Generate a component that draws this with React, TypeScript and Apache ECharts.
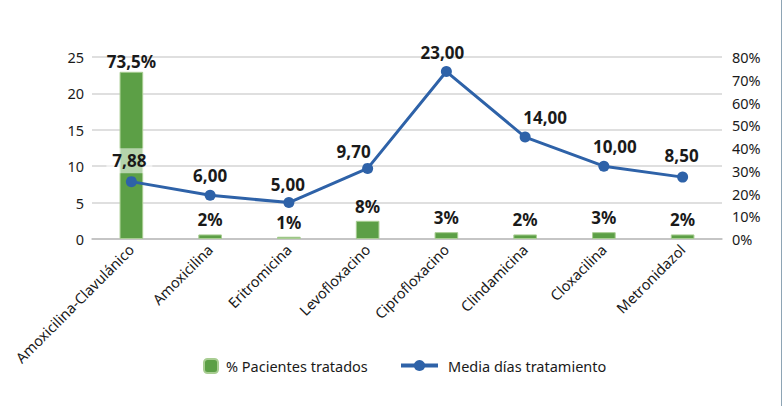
import React, { useEffect, useRef } from "react";
import * as echarts from "echarts";

const categories = [
  "Amoxicilina-Clavulánico",
  "Amoxicilina",
  "Eritromicina",
  "Levofloxacino",
  "Ciprofloxacino",
  "Clindamicina",
  "Cloxacilina",
  "Metronidazol",
];
const pacientesPct = [73.5, 2, 1, 8, 3, 2, 3, 2];
const mediaDias = [7.88, 6, 5, 9.7, 23, 14, 10, 8.5];
const leftTicks = { min: 0, max: 25, interval: 5 };
const rightTicks = { min: 0, max: 80, interval: 10 };

// label offsets (style only)
const lineLabelOffsets: [number, number][] = [
  [-2, 3],
  [0, 0],
  [-1, 2],
  [-14, 3],
  [-4, 1],
  [20, 0],
  [11, 0],
  [-1, -2],
];

const FONT = "'Noto Sans', 'Open Sans', sans-serif";
const TXT = "#1a1a1a";
const GREEN = "#5c9f46";
const BLUE = "#2e62a8";

export default function App() {
  const ref = useRef<HTMLDivElement>(null);
  useEffect(() => {
    if (!ref.current) return;
    const chart = echarts.init(ref.current, null, { renderer: "svg" });
    const fmtComma = (v: number, d?: number) =>
      (d !== undefined ? v.toFixed(d) : String(v)).replace(".", ",");
    chart.setOption({
      animation: false,
      textStyle: { fontFamily: FONT },
      grid: { left: 92, right: 60, top: 57, bottom: 167 },
      legend: [
        {
          data: ["% Pacientes tratados"],
          left: 203,
          top: 358,
          padding: 0,
          itemWidth: 14,
          itemHeight: 14,
          textStyle: { fontSize: 14.5, color: TXT, fontFamily: FONT, padding: [0, 0, 0, 3] },
        },
        {
          data: ["Media días tratamiento"],
          left: 399,
          top: 358,
          padding: 0,
          itemWidth: 37,
          itemHeight: 14,
          lineStyle: { width: 4 },
          textStyle: { fontSize: 14.5, color: TXT, fontFamily: FONT, padding: [0, 0, 0, 5] },
        },
      ],
      xAxis: {
        type: "category",
        data: categories,
        boundaryGap: true,
        axisTick: { show: false },
        axisLine: { lineStyle: { color: "#bdbdbd", width: 1.5 } },
        axisLabel: {
          rotate: 45,
          interval: 0,
          margin: 8,
          fontSize: 14.5,
          color: TXT,
          fontFamily: FONT,
        },
      },
      yAxis: [
        {
          type: "value",
          min: leftTicks.min,
          max: leftTicks.max,
          interval: leftTicks.interval,
          position: "left",
          axisLine: { show: false },
          axisTick: { show: false },
          splitLine: { lineStyle: { color: "#d4d4d4", width: 1.5 } },
          axisLabel: { fontSize: 14.5, color: TXT, margin: 8, fontFamily: FONT },
        },
        {
          type: "value",
          min: rightTicks.min,
          max: rightTicks.max,
          interval: rightTicks.interval,
          position: "right",
          axisLine: { show: false },
          axisTick: { show: false },
          splitLine: { show: false },
          axisLabel: {
            fontSize: 14.5,
            color: TXT,
            margin: 10,
            fontFamily: FONT,
            formatter: (v: number) => v + "%",
          },
        },
      ],
      series: [
        {
          name: "% Pacientes tratados",
          type: "bar",
          yAxisIndex: 1,
          barWidth: "30%",
          data: pacientesPct.map((v, i) => ({
            value: v,
            label: i === 0 ? { distance: 2 } : {},
          })),
          itemStyle: { color: GREEN, borderColor: "#a8cd92", borderWidth: 1 },
          label: {
            show: true,
            position: "top",
            distance: 6,
            fontSize: 17,
            fontWeight: "bold",
            color: TXT,
            fontFamily: FONT,
            formatter: (p: any) => fmtComma(p.value) + "%",
          },
          z: 2,
        },
        {
          name: "Media días tratamiento",
          type: "line",
          yAxisIndex: 0,
          data: mediaDias.map((v, i) => ({
            value: v,
            label: {
              offset: lineLabelOffsets[i],
              ...(i === 0
                ? { backgroundColor: "rgba(255,255,255,0.55)", padding: [4, 6] }
                : {}),
            },
          })),
          symbol: "circle",
          symbolSize: 11,
          lineStyle: { color: BLUE, width: 3 },
          itemStyle: { color: BLUE },
          label: {
            show: true,
            position: "top",
            distance: 6,
            fontSize: 17,
            fontWeight: "bold",
            color: TXT,
            fontFamily: FONT,
            formatter: (p: any) => fmtComma(p.value, 2),
          },
          z: 5,
        },
      ],
      graphic: [
        {
          type: "line",
          shape: { x1: 781.5, y1: 0, x2: 781.5, y2: 406 },
          style: { stroke: "#8ea5b5", lineWidth: 1 },
        },
      ],
    });
    return () => chart.dispose();
  }, []);
  return (
    <div
      ref={ref}
      style={{ position: "absolute", left: 0, top: 0, width: 782, height: 406 }}
    />
  );
}
